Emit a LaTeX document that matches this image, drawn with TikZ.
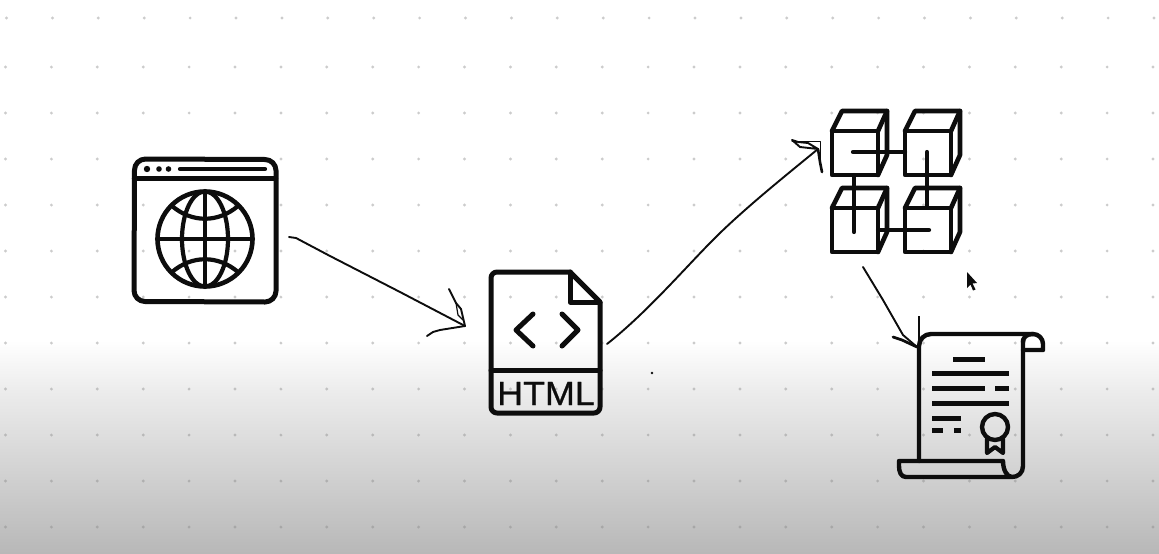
\documentclass[tikz,border=0pt]{standalone}
\usepackage{fontspec}
\setmainfont{Liberation Sans}
\newfontfamily\htmlfont[FakeBold=0.7]{Liberation Sans}
\definecolor{ink}{gray}{0.05}
\definecolor{griddot}{gray}{0.5}
\definecolor{bgmid}{gray}{0.93}
\definecolor{bgend}{gray}{0.72}
\begin{document}
\begin{tikzpicture}[x=1pt,y=-1pt,
  icon/.style={draw=ink,line width=5pt,line join=round,line cap=round},
  cubeline/.style={draw=ink,line width=4.6pt,line join=round,line cap=round},
  thinicon/.style={draw=ink,line width=4.2pt,line join=round,line cap=round},
  certline/.style={draw=ink,line width=4.4pt,line join=round,line cap=round},
  hand/.style={draw=ink,line width=1.9pt,line join=round,line cap=round},
  griddotstyle/.style={fill=griddot,fill opacity=0.4,draw=none}]
\useasboundingbox (0,0) rectangle (1159,554);
\fill[white] (0,0) rectangle (1159,341);
\shade[top color=white,bottom color=bgmid] (0,340) rectangle (1159,388);
\shade[top color=bgmid,bottom color=bgend] (0,387.5) rectangle (1159,554);
% dot grid
\foreach \r in {67,113,...,527}{
  \foreach \c in {0,...,25}{
    \fill[griddotstyle] ({5.5+45.9*\c},\r) circle (1.6);
  }
}
\foreach \c in {0,...,25}{\fill[griddotstyle] ({6.5+45.9*\c},18) circle (1.6);}
% browser window
\draw[icon] (134.5,170) arc[start angle=180,end angle=270,radius=11] -- (265,159.5) arc[start angle=270,end angle=360,radius=11] -- (276,291) arc[start angle=0,end angle=90,radius=11] -- (145,301.5) arc[start angle=90,end angle=180,radius=11] -- cycle;
\draw[thinicon] (134,178.5) -- (276,178.5);
\fill[ink] (147,169) circle (3.2) (159,169) circle (2.8) (168.5,169) circle (2.8);
\draw[thinicon] (180,169) -- (265,169);
\draw[icon,line width=4.6pt] (205,239) circle (47.5);
\draw[thinicon] (205,239) ellipse (23 and 47.5);
\draw[thinicon] (205,191) -- (205,287) (157,239) -- (253,239);
\draw[thinicon] (172,206) .. controls (192,223) and (218,223) .. (238,206);
\draw[thinicon] (172,272) .. controls (192,255) and (218,255) .. (238,272);
% HTML file
\draw[icon] (491,278) arc[start angle=180,end angle=270,radius=6] -- (570,272) -- (600,302) -- (600,407) arc[start angle=0,end angle=90,radius=6] -- (497,413) arc[start angle=90,end angle=180,radius=6] -- cycle;
\draw[icon] (570,272) -- (570,302) -- (600,302);
\draw[icon] (491,370) -- (600,370);
\draw[icon] (533,314) -- (516,330) -- (533,346);
\draw[icon] (562,314) -- (578,330) -- (562,346);
\node[inner sep=0pt,anchor=base,text=ink,font=\htmlfont\fontsize{33.5}{33.5}\selectfont,xscale=1.07] (htmllabel) at (546,405) {HTML};
% cubes
\foreach \cx/\cy in {832/131,905/131,832/208,905/208}{
  \draw[cubeline] (\cx,\cy) rectangle (\cx+46,\cy+44);
  \draw[cubeline] (\cx,\cy) -- (\cx+10,\cy-20) -- (\cx+55,\cy-20) -- (\cx+55,\cy+24) -- (\cx+46,\cy+44);
  \draw[cubeline] (\cx+46,\cy) -- (\cx+55,\cy-20);
}
\draw[thinicon] (853,152) -- (905,152);
\draw[thinicon] (927,152) -- (927,207);
\draw[thinicon] (854,175) -- (854,232);
\draw[thinicon] (878,230) -- (929,230);
% certificate
\draw[certline] (919,461) -- (919,346) arc[start angle=180,end angle=270,radius=12] -- (1033,334) arc[start angle=270,end angle=360,radius=10] -- (1043,350) -- (1023,350);
\draw[certline] (1023,340) -- (1023,466) .. controls (1023,473) and (1018,477) .. (1012,477) -- (906,477) .. controls (901,477) and (899,472) .. (899,466) -- (899,461) -- (1003,461) .. controls (1003,470) and (1007,477) .. (1012,477);
\draw[certline] (1033,334) .. controls (1027,334) and (1023,337) .. (1023,342);
\foreach \xa/\xb/\yy in {953/985/359,932/1009/373,932/985/388,995/1009/388,932/1009/403,932/961/418,932/943/430,954/961/430}{
  \fill[ink] (\xa,\yy-2.5) rectangle (\xb,\yy+2.5);
}
\draw[certline] (995,427) circle (13);
\draw[thinicon] (987,439) -- (987,453) -- (995,447) -- (1003,453) -- (1003,439);
\draw[ink,line width=1.4pt] (919,316) -- (919,345);
% named ends of the hand-drawn connectors
\coordinate (aStart) at (289,237);
\coordinate (aEnd) at (465,326);
\coordinate (bStart) at (607,344);
\coordinate (bEnd) at (818,149);
\coordinate (cStart) at (863,267);
\coordinate (cEnd) at (917,347);
% hand-drawn connectors
\draw[hand] (aStart) -- (296,238) -- (330,256) -- (400,292) -- (aEnd);
\draw[hand] (449,289) -- (456,303) -- (461,309) -- (aEnd) -- (440,330) -- (433,332) -- (427,336);
\draw[hand,line width=1.2pt] (456,303) -- (458,315) -- (463,320);
\draw[hand] (bStart) .. controls (650,310) and (690,262) .. (720,233) .. controls (750,204) and (790,172) .. (bEnd);
\draw[hand] (792,140) -- (800,147) -- (bEnd) -- (808,143) -- (798,142) -- cycle;
\draw[hand,line width=1pt] (792,141) -- (820,141) -- (820,160);
\draw[hand,line width=2.6pt] (bEnd) -- (820,162) -- (822,172);
\draw[hand] (cStart) -- (883,300) -- (903,335) -- (cEnd);
\draw[hand,line width=2.8pt] (893,337) -- (902,340) -- (cEnd);
% mouse pointer
\fill[ink] (967,272) -- (967,288) -- (970.5,284.5) -- (973,290.5) -- (975.5,289.5) -- (972.5,283.5) -- (977,283) -- cycle;
\fill[ink] (652,373) circle (1.3);
\end{tikzpicture}
\end{document}
